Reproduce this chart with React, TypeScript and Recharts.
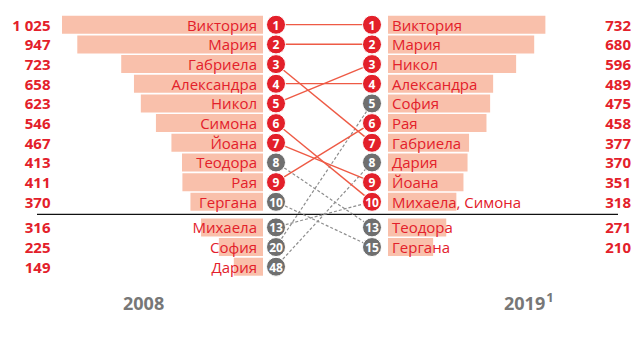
import { BarChart, Bar, XAxis, YAxis, LabelList, LineChart, Line, ReferenceLine } from "recharts";

// 2008 top names (ranked by count), then three below the cut line
const names2008 = ["Виктория", "Мария", "Габриела", "Александра", "Никол", "Симона", "Йоана", "Теодора", "Рая", "Гергана", "Михаела", "София", "Дария"];
const ranks2008 = [1, 2, 3, 4, 5, 6, 7, 8, 9, 10, 13, 20, 48];
const counts2008 = [1025, 947, 723, 658, 623, 546, 467, 413, 411, 370, 316, 225, 149];

const names2019 = ["Виктория", "Мария", "Никол", "Александра", "София", "Рая", "Габриела", "Дария", "Йоана", "Михаела, Симона", "Теодора", "Гергана"];
const ranks2019 = [1, 2, 3, 4, 5, 6, 7, 8, 9, 10, 13, 15];
const counts2019 = [732, 680, 596, 489, 475, 458, 377, 370, 351, 318, 271, 210];

const years = ["2008", "2019"];
const footnote = "1";

const RED = "#e3202a";
const LINK_RED = "#ee5a45";
const GREY = "#6f6f6f";
const LINK_GREY = "#8e8e8e";
const BAR = "#f9c0ab";
const YEAR_GREY = "#777777";
const FONT = '"Open Sans", "DejaVu Sans", sans-serif';

const ROW_DOMAIN: [number, number] = [-0.25, 18.05];
const TOP = 10;

const slotOf = (i: number) => (i < TOP ? i + 1 : i + 1.3);
const split = (label: string) => label.split(", ");

const stayed = names2008.filter(
  (n, i) => ranks2008[i] <= TOP && names2019.some((m, j) => ranks2019[j] <= TOP && split(m).includes(n))
);

const rows2008 = names2008.map((name, i) => ({
  name,
  count: counts2008[i],
  rank: ranks2008[i],
  slot: slotOf(i),
  hot: stayed.includes(name),
}));

const rows2019 = names2019.map((name, i) => ({
  name,
  count: counts2019[i],
  rank: ranks2019[i],
  slot: slotOf(i),
  hot: split(name).some((n) => stayed.includes(n)),
}));

const slot2019 = (n: string) => rows2019.find((r) => split(r.name).includes(n))!.slot;

const links = names2008.map((name, i) => ({
  name,
  from: slotOf(i),
  to: slot2019(name),
  hot: stayed.includes(name),
}));
const orderedLinks = [...links.filter((l) => !l.hot), ...links.filter((l) => l.hot)];

const linkData = [
  { x: 0, ...Object.fromEntries(links.map((l) => [l.name, l.from])) },
  { x: 1, ...Object.fromEntries(links.map((l) => [l.name, l.to])) },
];

const fmt = (v: number) => String(v).replace(/\B(?=(\d{3})+(?!\d))/g, " ");

const box = (p: any) => {
  const v = p.viewBox && p.viewBox.width !== undefined ? p.viewBox : p;
  const x = Number(v.x);
  const w = Number(v.width);
  const y = Number(v.y);
  const h = Number(v.height);
  return { left: Math.min(x, x + w), right: Math.max(x, x + w), cy: y + h / 2 };
};

const Badge = ({ cx, cy, rank, hot }: { cx: number; cy: number; rank: number; hot: boolean }) => (
  <g>
    <circle cx={cx} cy={cy} r={9.5} fill={hot ? RED : GREY} stroke="#fff" strokeWidth={1} />
    <text
      x={cx}
      y={cy}
      dy={0.5}
      textAnchor="middle"
      dominantBaseline="central"
      fill="#fff"
      fontSize={12}
      fontWeight={700}
      fontFamily={FONT}
    >
      {rank}
    </text>
  </g>
);

// left side: bars grow leftwards from x=263
const LEFT_DOT = 276;
const LEFT_VALUE_X = 50.5;
// right side chart sits at x=360
const RIGHT_OFFSET = 360;
const RIGHT_DOT = 372;
const RIGHT_VALUE_X = 631;

const textProps = { fontFamily: FONT, dominantBaseline: "central" as const };

export default function App() {
  return (
    <div style={{ position: "absolute", left: 0, top: 0, width: 640, height: 360, background: "#fff" }}>
      {/* connectors + cut line */}
      <div style={{ position: "absolute", left: 0, top: 0 }}>
        <LineChart width={640} height={360} data={linkData} margin={{ top: 0, right: 22, bottom: 0, left: 37 }}>
          <XAxis
            type="number"
            dataKey="x"
            hide
            allowDataOverflow
            domain={[(37 - LEFT_DOT) / (RIGHT_DOT - LEFT_DOT), (618 - LEFT_DOT) / (RIGHT_DOT - LEFT_DOT)]}
          />
          <YAxis type="number" hide reversed allowDataOverflow domain={ROW_DOMAIN} />
          <ReferenceLine y={10.65} stroke="#111" strokeWidth={1.3} />
          {orderedLinks.map((l) => (
            <Line
              key={l.name}
              dataKey={l.name}
              stroke={l.hot ? LINK_RED : LINK_GREY}
              strokeWidth={l.hot ? 1.4 : 1.2}
              strokeDasharray={l.hot ? undefined : "3 2"}
              dot={false}
              activeDot={false}
              isAnimationActive={false}
            />
          ))}
        </LineChart>
      </div>

      {/* 2008 */}
      <div style={{ position: "absolute", left: 0, top: 0 }}>
        <BarChart
          width={290}
          height={360}
          layout="vertical"
          data={rows2008}
          margin={{ top: 0, right: 27, bottom: 0, left: 62 }}
        >
          <XAxis type="number" domain={[0, "dataMax"]} reversed hide allowDataOverflow />
          <YAxis
            type="number"
            dataKey="slot"
            domain={ROW_DOMAIN}
            ticks={rows2008.map((r) => r.slot)}
            hide
            allowDataOverflow
          />
          <Bar dataKey="count" fill={BAR} barSize={18} isAnimationActive={false}>
            <LabelList
              dataKey="name"
              content={(p: any) => {
                const b = box(p);
                const r = rows2008[p.index];
                return (
                  <g>
                    <text x={b.right - 6} y={b.cy} textAnchor="end" fill={RED} fontSize={15} {...textProps}>
                      {r.name}
                    </text>
                    <text x={LEFT_VALUE_X} y={b.cy} textAnchor="end" fill={RED} fontSize={15} fontWeight={700} {...textProps}>
                      {fmt(r.count)}
                    </text>
                    <Badge cx={LEFT_DOT} cy={b.cy} rank={r.rank} hot={r.hot} />
                  </g>
                );
              }}
            />
          </Bar>
        </BarChart>
      </div>

      {/* 2019 */}
      <div style={{ position: "absolute", left: RIGHT_OFFSET, top: 0 }}>
        <BarChart
          width={280}
          height={360}
          layout="vertical"
          data={rows2019}
          margin={{ top: 0, right: 37, bottom: 0, left: 28 }}
        >
          <XAxis type="number" domain={[0, 1000]} hide allowDataOverflow />
          <YAxis
            type="number"
            dataKey="slot"
            domain={ROW_DOMAIN}
            ticks={rows2019.map((r) => r.slot)}
            hide
            allowDataOverflow
          />
          <Bar dataKey="count" fill={BAR} barSize={18} isAnimationActive={false}>
            <LabelList
              dataKey="name"
              content={(p: any) => {
                const b = box(p);
                const r = rows2019[p.index];
                return (
                  <g>
                    <text x={b.left + 4} y={b.cy} textAnchor="start" fill={RED} fontSize={15} {...textProps}>
                      {r.name}
                    </text>
                    <text
                      x={RIGHT_VALUE_X - RIGHT_OFFSET}
                      y={b.cy}
                      textAnchor="end"
                      fill={RED}
                      fontSize={15}
                      fontWeight={700}
                      {...textProps}
                    >
                      {fmt(r.count)}
                    </text>
                    <Badge cx={RIGHT_DOT - RIGHT_OFFSET} cy={b.cy} rank={r.rank} hot={r.hot} />
                  </g>
                );
              }}
            />
          </Bar>
        </BarChart>
      </div>

      {/* year captions */}
      <svg width={640} height={360} style={{ position: "absolute", left: 0, top: 0, pointerEvents: "none" }}>
        <text x={123} y={310} fill={YEAR_GREY} fontSize={18} fontWeight={700} fontFamily={FONT}>
          {years[0]}
        </text>
        <text x={504} y={310} fill={YEAR_GREY} fontSize={18} fontWeight={700} fontFamily={FONT}>
          {years[1]}
          <tspan dx={1} dy={-8} fontSize={13}>
            {footnote}
          </tspan>
        </text>
      </svg>
    </div>
  );
}
